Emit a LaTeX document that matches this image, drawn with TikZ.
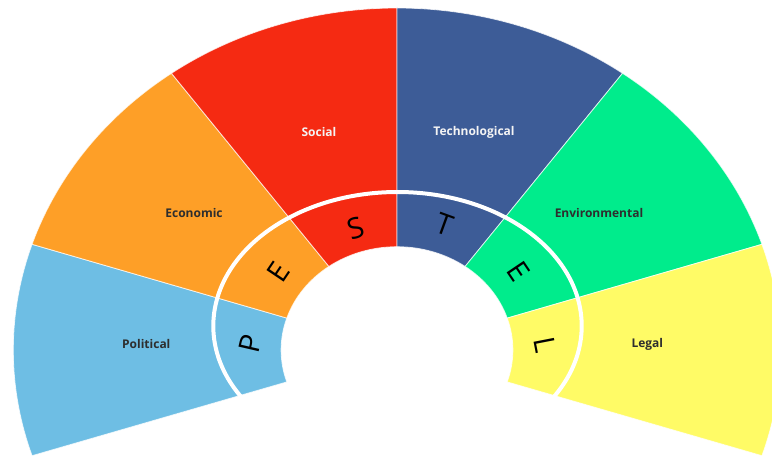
\documentclass[tikz,border=0pt]{standalone}
\usepackage{fontspec}
\setmainfont{Open Sans}
\definecolor{polC}{HTML}{6EBEE4}
\definecolor{ecoC}{HTML}{FE9F27}
\definecolor{socC}{HTML}{F52A12}
\definecolor{tecC}{HTML}{3D5C97}
\definecolor{envC}{HTML}{00EC8C}
\definecolor{legC}{HTML}{FFFB66}
\definecolor{txtC}{HTML}{2E2E2E}
\definecolor{lightTxt}{HTML}{F4F4F4}
\newcommand\pestsector[3]{%
  \filldraw[fill=#1, draw=white, draw opacity=0.75, line width=0.8pt]
    (#2:383.7pt and 342pt) arc[start angle=#2, end angle=#3, x radius=383.7pt, y radius=342pt]
    -- (#3:115.9pt and 103.3pt) arc[start angle=#3, end angle=#2, x radius=115.9pt, y radius=103.3pt]
    -- cycle;}
\tikzset{
  lbl/.style={font=\bfseries\fontsize{12}{13}\selectfont, text=txtC, inner sep=0pt},
  lbllight/.style={lbl, text=lightTxt},
  letter/.style={font=\fontsize{29}{31}\selectfont, text=black, inner sep=0pt},
  ringline/.style={draw=white, line width=4pt}
}
\begin{document}
\begin{tikzpicture}[x=1pt,y=1pt]
\useasboundingbox (0,0) rectangle (772,456);
\coordinate (C) at (397,106);
\begin{scope}[shift={(C)}]
  \pestsector{polC}{162}{198}
  \pestsector{ecoC}{126}{162}
  \pestsector{socC}{90}{126}
  \pestsector{tecC}{54}{90}
  \pestsector{envC}{18}{54}
  \pestsector{legC}{-18}{18}
\end{scope}
\coordinate (RC) at (397.5,130);
\draw[ringline] (RC) ellipse [x radius=184.2pt, y radius=134pt];
% sector labels
\node[lbl] (political) at (146.3,112) {Political};
\node[lbl] (economic) at (194,243) {Economic};
\node[lbllight] (social) at (319,324) {Social};
\node[lbllight] (technological) at (474,324) {Technological};
\node[lbl] (environmental) at (599,243) {Environmental};
\node[lbl] (legal) at (647.3,112) {Legal};
% big letters
\node[letter, rotate=77] (lP) at (250.8,112.3) {P};
\node[letter, rotate=56] (lE1) at (278.3,184.3) {E};
\node[letter, rotate=18] (lS) at (355.8,227.7) {S};
\node[letter, rotate=-20] (lT) at (444.7,231) {T};
\node[letter, rotate=-56] (lE2) at (518.3,184.8) {E};
\node[letter, rotate=-79] (lL) at (545.3,110.7) {L};
\end{tikzpicture}
\end{document}
